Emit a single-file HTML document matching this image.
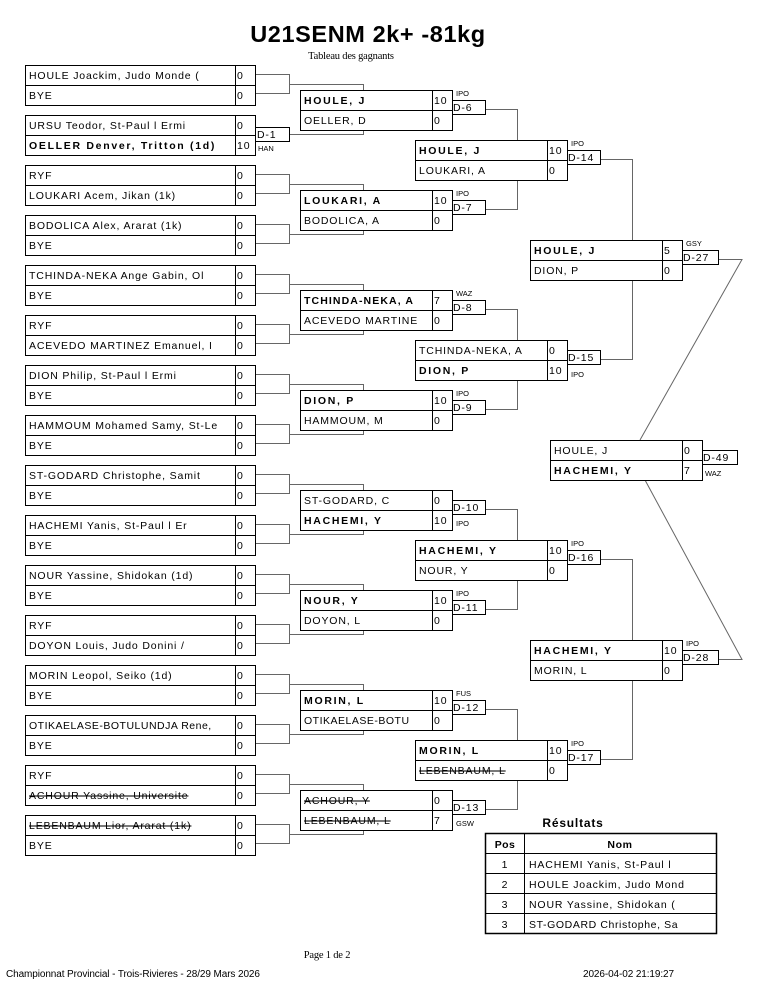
<!DOCTYPE html>
<html><head><meta charset="utf-8"><style>
html,body{margin:0;padding:0;background:#fff;}
svg{display:block;}
text{font-family:"Liberation Sans",sans-serif;font-size:10.5px;letter-spacing:0.85px;fill:#000;}
.b{font-weight:bold;letter-spacing:1.7px;}
.t{font-size:7.5px;letter-spacing:0;}
.s{text-decoration:line-through;}
rect{fill:#fff;stroke:#000;stroke-width:1;}
.l{stroke:#000;stroke-width:1;fill:none;}
.c{stroke:#666;stroke-width:1;fill:none;}
</style></head><body>
<svg width="765" height="990" viewBox="0 0 765 990" xmlns="http://www.w3.org/2000/svg">
<text x="368" y="42" text-anchor="middle" style="font-size:23.5px;font-weight:bold;letter-spacing:0.6px">U21SENM 2k+ -81kg</text>
<text x="351" y="59" text-anchor="middle" style="font-family:'Liberation Serif',serif;font-size:10.5px;letter-spacing:-0.2px">Tableau des gagnants</text>

<!-- ROUND 1 -->
<g transform="translate(0,65)"><path class="c" d="M255 9.5H289.5V28.5H255M289 19.5H363.5V25"/><rect x="25.5" y="0.5" width="230" height="40"/><path class="l" d="M25 20.5H255M235.5 0V40"/><text x="29" y="14">HOULE Joackim, Judo Monde (</text><text x="29" y="34">BYE</text><text x="237" y="14">0</text><text x="237" y="34">0</text></g>
<g transform="translate(0,115)"><path class="c" d="M290 19.5H363.5V15"/><rect x="25.5" y="0.5" width="230" height="40"/><path class="l" d="M25 20.5H255M235.5 0V40"/><text x="29" y="14">URSU Teodor, St-Paul l Ermi</text><text x="29" y="34" class="b">OELLER Denver, Tritton (1d)</text><text x="237" y="14">0</text><text x="237" y="34">10</text><rect x="255.5" y="12.5" width="34" height="14"/><text x="257" y="23">D-1</text><text x="258" y="36" class="t">HAN</text></g>
<g transform="translate(0,165)"><path class="c" d="M255 9.5H289.5V28.5H255M289 19.5H363.5V25"/><rect x="25.5" y="0.5" width="230" height="40"/><path class="l" d="M25 20.5H255M235.5 0V40"/><text x="29" y="14">RYF</text><text x="29" y="34">LOUKARI Acem, Jikan (1k)</text><text x="237" y="14">0</text><text x="237" y="34">0</text></g>
<g transform="translate(0,215)"><path class="c" d="M255 9.5H289.5V28.5H255M289 19.5H363.5V15"/><rect x="25.5" y="0.5" width="230" height="40"/><path class="l" d="M25 20.5H255M235.5 0V40"/><text x="29" y="14">BODOLICA Alex, Ararat (1k)</text><text x="29" y="34">BYE</text><text x="237" y="14">0</text><text x="237" y="34">0</text></g>
<g transform="translate(0,265)"><path class="c" d="M255 9.5H289.5V28.5H255M289 19.5H363.5V25"/><rect x="25.5" y="0.5" width="230" height="40"/><path class="l" d="M25 20.5H255M235.5 0V40"/><text x="29" y="14">TCHINDA-NEKA Ange Gabin, Ol</text><text x="29" y="34">BYE</text><text x="237" y="14">0</text><text x="237" y="34">0</text></g>
<g transform="translate(0,315)"><path class="c" d="M255 9.5H289.5V28.5H255M289 19.5H363.5V15"/><rect x="25.5" y="0.5" width="230" height="40"/><path class="l" d="M25 20.5H255M235.5 0V40"/><text x="29" y="14">RYF</text><text x="29" y="34">ACEVEDO MARTINEZ Emanuel, I</text><text x="237" y="14">0</text><text x="237" y="34">0</text></g>
<g transform="translate(0,365)"><path class="c" d="M255 9.5H289.5V28.5H255M289 19.5H363.5V25"/><rect x="25.5" y="0.5" width="230" height="40"/><path class="l" d="M25 20.5H255M235.5 0V40"/><text x="29" y="14">DION Philip, St-Paul l Ermi</text><text x="29" y="34">BYE</text><text x="237" y="14">0</text><text x="237" y="34">0</text></g>
<g transform="translate(0,415)"><path class="c" d="M255 9.5H289.5V28.5H255M289 19.5H363.5V15"/><rect x="25.5" y="0.5" width="230" height="40"/><path class="l" d="M25 20.5H255M235.5 0V40"/><text x="29" y="14">HAMMOUM Mohamed Samy, St-Le</text><text x="29" y="34">BYE</text><text x="237" y="14">0</text><text x="237" y="34">0</text></g>
<g transform="translate(0,465)"><path class="c" d="M255 9.5H289.5V28.5H255M289 19.5H363.5V25"/><rect x="25.5" y="0.5" width="230" height="40"/><path class="l" d="M25 20.5H255M235.5 0V40"/><text x="29" y="14">ST-GODARD Christophe, Samit</text><text x="29" y="34">BYE</text><text x="237" y="14">0</text><text x="237" y="34">0</text></g>
<g transform="translate(0,515)"><path class="c" d="M255 9.5H289.5V28.5H255M289 19.5H363.5V15"/><rect x="25.5" y="0.5" width="230" height="40"/><path class="l" d="M25 20.5H255M235.5 0V40"/><text x="29" y="14">HACHEMI Yanis, St-Paul l Er</text><text x="29" y="34">BYE</text><text x="237" y="14">0</text><text x="237" y="34">0</text></g>
<g transform="translate(0,565)"><path class="c" d="M255 9.5H289.5V28.5H255M289 19.5H363.5V25"/><rect x="25.5" y="0.5" width="230" height="40"/><path class="l" d="M25 20.5H255M235.5 0V40"/><text x="29" y="14">NOUR Yassine, Shidokan (1d)</text><text x="29" y="34">BYE</text><text x="237" y="14">0</text><text x="237" y="34">0</text></g>
<g transform="translate(0,615)"><path class="c" d="M255 9.5H289.5V28.5H255M289 19.5H363.5V15"/><rect x="25.5" y="0.5" width="230" height="40"/><path class="l" d="M25 20.5H255M235.5 0V40"/><text x="29" y="14">RYF</text><text x="29" y="34">DOYON Louis, Judo Donini /</text><text x="237" y="14">0</text><text x="237" y="34">0</text></g>
<g transform="translate(0,665)"><path class="c" d="M255 9.5H289.5V28.5H255M289 19.5H363.5V25"/><rect x="25.5" y="0.5" width="230" height="40"/><path class="l" d="M25 20.5H255M235.5 0V40"/><text x="29" y="14">MORIN Leopol, Seiko (1d)</text><text x="29" y="34">BYE</text><text x="237" y="14">0</text><text x="237" y="34">0</text></g>
<g transform="translate(0,715)"><path class="c" d="M255 9.5H289.5V28.5H255M289 19.5H363.5V15"/><rect x="25.5" y="0.5" width="230" height="40"/><path class="l" d="M25 20.5H255M235.5 0V40"/><text x="29" y="14" style="letter-spacing:0.5px">OTIKAELASE-BOTULUNDJA Rene,</text><text x="29" y="34">BYE</text><text x="237" y="14">0</text><text x="237" y="34">0</text></g>
<g transform="translate(0,765)"><path class="c" d="M255 9.5H289.5V28.5H255M289 19.5H363.5V25"/><rect x="25.5" y="0.5" width="230" height="40"/><path class="l" d="M25 20.5H255M235.5 0V40"/><text x="29" y="14">RYF</text><text x="29" y="34" class="s">ACHOUR Yassine, Universite</text><text x="237" y="14">0</text><text x="237" y="34">0</text></g>
<g transform="translate(0,815)"><path class="c" d="M255 9.5H289.5V28.5H255M289 19.5H363.5V15"/><rect x="25.5" y="0.5" width="230" height="40"/><path class="l" d="M25 20.5H255M235.5 0V40"/><text x="29" y="14" class="s">LEBENBAUM Lior, Ararat (1k)</text><text x="29" y="34">BYE</text><text x="237" y="14">0</text><text x="237" y="34">0</text></g>

<!-- ROUND 2 -->
<g transform="translate(0,90)"><path class="c" d="M485 19.5H517.5V50"/><rect x="300.5" y="0.5" width="152" height="40"/><path class="l" d="M300 20.5H452M432.5 0V40"/><text x="304" y="14" class="b">HOULE, J</text><text x="304" y="34">OELLER, D</text><text x="434" y="14">10</text><text x="434" y="34">0</text><rect x="452.5" y="10.5" width="33" height="14"/><text x="453" y="21">D-6</text><text x="456" y="6" class="t">IPO</text></g>
<g transform="translate(0,190)"><path class="c" d="M485 19.5H517.5V-10"/><rect x="300.5" y="0.5" width="152" height="40"/><path class="l" d="M300 20.5H452M432.5 0V40"/><text x="304" y="14" class="b">LOUKARI, A</text><text x="304" y="34">BODOLICA, A</text><text x="434" y="14">10</text><text x="434" y="34">0</text><rect x="452.5" y="10.5" width="33" height="14"/><text x="453" y="21">D-7</text><text x="456" y="6" class="t">IPO</text></g>
<g transform="translate(0,290)"><path class="c" d="M485 19.5H517.5V50"/><rect x="300.5" y="0.5" width="152" height="40"/><path class="l" d="M300 20.5H452M432.5 0V40"/><text x="304" y="14" class="b" style="letter-spacing:1.1px">TCHINDA-NEKA, A</text><text x="304" y="34">ACEVEDO MARTINE</text><text x="434" y="14">7</text><text x="434" y="34">0</text><rect x="452.5" y="10.5" width="33" height="14"/><text x="453" y="21">D-8</text><text x="456" y="6" class="t">WAZ</text></g>
<g transform="translate(0,390)"><path class="c" d="M485 19.5H517.5V-10"/><rect x="300.5" y="0.5" width="152" height="40"/><path class="l" d="M300 20.5H452M432.5 0V40"/><text x="304" y="14" class="b">DION, P</text><text x="304" y="34">HAMMOUM, M</text><text x="434" y="14">10</text><text x="434" y="34">0</text><rect x="452.5" y="10.5" width="33" height="14"/><text x="453" y="21">D-9</text><text x="456" y="6" class="t">IPO</text></g>
<g transform="translate(0,490)"><path class="c" d="M485 19.5H517.5V50"/><rect x="300.5" y="0.5" width="152" height="40"/><path class="l" d="M300 20.5H452M432.5 0V40"/><text x="304" y="14">ST-GODARD, C</text><text x="304" y="34" class="b">HACHEMI, Y</text><text x="434" y="14">0</text><text x="434" y="34">10</text><rect x="452.5" y="10.5" width="33" height="14"/><text x="453" y="21">D-10</text><text x="456" y="36" class="t">IPO</text></g>
<g transform="translate(0,590)"><path class="c" d="M485 19.5H517.5V-10"/><rect x="300.5" y="0.5" width="152" height="40"/><path class="l" d="M300 20.5H452M432.5 0V40"/><text x="304" y="14" class="b">NOUR, Y</text><text x="304" y="34">DOYON, L</text><text x="434" y="14">10</text><text x="434" y="34">0</text><rect x="452.5" y="10.5" width="33" height="14"/><text x="453" y="21">D-11</text><text x="456" y="6" class="t">IPO</text></g>
<g transform="translate(0,690)"><path class="c" d="M485 19.5H517.5V50"/><rect x="300.5" y="0.5" width="152" height="40"/><path class="l" d="M300 20.5H452M432.5 0V40"/><text x="304" y="14" class="b">MORIN, L</text><text x="304" y="34" style="letter-spacing:0.5px">OTIKAELASE-BOTU</text><text x="434" y="14">10</text><text x="434" y="34">0</text><rect x="452.5" y="10.5" width="33" height="14"/><text x="453" y="21">D-12</text><text x="456" y="6" class="t">FUS</text></g>
<g transform="translate(0,790)"><path class="c" d="M485 19.5H517.5V-10"/><rect x="300.5" y="0.5" width="152" height="40"/><path class="l" d="M300 20.5H452M432.5 0V40"/><text x="304" y="14" class="s">ACHOUR, Y</text><text x="304" y="34" class="s">LEBENBAUM, L</text><text x="434" y="14">0</text><text x="434" y="34">7</text><rect x="452.5" y="10.5" width="33" height="14"/><text x="453" y="21">D-13</text><text x="456" y="36" class="t">GSW</text></g>

<!-- ROUND 3 -->
<g transform="translate(0,140)"><path class="c" d="M600 19.5H632.5V100"/><rect x="415.5" y="0.5" width="152" height="40"/><path class="l" d="M415 20.5H567M547.5 0V40"/><text x="419" y="14" class="b">HOULE, J</text><text x="419" y="34">LOUKARI, A</text><text x="549" y="14">10</text><text x="549" y="34">0</text><rect x="567.5" y="10.5" width="33" height="14"/><text x="568" y="21">D-14</text><text x="571" y="6" class="t">IPO</text></g>
<g transform="translate(0,340)"><path class="c" d="M600 19.5H632.5V-60"/><rect x="415.5" y="0.5" width="152" height="40"/><path class="l" d="M415 20.5H567M547.5 0V40"/><text x="419" y="14">TCHINDA-NEKA, A</text><text x="419" y="34" class="b">DION, P</text><text x="549" y="14">0</text><text x="549" y="34">10</text><rect x="567.5" y="10.5" width="33" height="14"/><text x="568" y="21">D-15</text><text x="571" y="37" class="t">IPO</text></g>
<g transform="translate(0,540)"><path class="c" d="M600 19.5H632.5V100"/><rect x="415.5" y="0.5" width="152" height="40"/><path class="l" d="M415 20.5H567M547.5 0V40"/><text x="419" y="14" class="b">HACHEMI, Y</text><text x="419" y="34">NOUR, Y</text><text x="549" y="14">10</text><text x="549" y="34">0</text><rect x="567.5" y="10.5" width="33" height="14"/><text x="568" y="21">D-16</text><text x="571" y="6" class="t">IPO</text></g>
<g transform="translate(0,740)"><path class="c" d="M600 19.5H632.5V-60"/><rect x="415.5" y="0.5" width="152" height="40"/><path class="l" d="M415 20.5H567M547.5 0V40"/><text x="419" y="14" class="b">MORIN, L</text><text x="419" y="34" class="s">LEBENBAUM, L</text><text x="549" y="14">10</text><text x="549" y="34">0</text><rect x="567.5" y="10.5" width="33" height="14"/><text x="568" y="21">D-17</text><text x="571" y="6" class="t">IPO</text></g>

<!-- ROUND 4 -->
<g transform="translate(0,240)"><path class="c" d="M718 19.5H742L640 200"/><rect x="530.5" y="0.5" width="152" height="40"/><path class="l" d="M530 20.5H682M662.5 0V40"/><text x="534" y="14" class="b">HOULE, J</text><text x="534" y="34">DION, P</text><text x="664" y="14">5</text><text x="664" y="34">0</text><rect x="682.5" y="10.5" width="36" height="14"/><text x="683" y="21">D-27</text><text x="686" y="6" class="t">GSY</text></g>
<g transform="translate(0,640)"><path class="c" d="M718 19.5H742L645 -160"/><rect x="530.5" y="0.5" width="152" height="40"/><path class="l" d="M530 20.5H682M662.5 0V40"/><text x="534" y="14" class="b">HACHEMI, Y</text><text x="534" y="34">MORIN, L</text><text x="664" y="14">10</text><text x="664" y="34">0</text><rect x="682.5" y="10.5" width="36" height="14"/><text x="683" y="21">D-28</text><text x="686" y="6" class="t">IPO</text></g>

<!-- FINAL -->
<g transform="translate(0,440)"><rect x="550.5" y="0.5" width="152" height="40"/><path class="l" d="M550 20.5H702M682.5 0V40"/><text x="554" y="14">HOULE, J</text><text x="554" y="34" class="b">HACHEMI, Y</text><text x="684" y="14">0</text><text x="684" y="34">7</text><rect x="702.5" y="10.5" width="35" height="14"/><text x="703" y="21">D-49</text><text x="705" y="36" class="t">WAZ</text></g>

<!-- RESULTS -->
<text x="573" y="827" text-anchor="middle" class="b" style="font-size:12px;letter-spacing:0.8px">Résultats</text>
<rect x="485.5" y="833.5" width="231" height="100" style="stroke-width:1.5"/>
<path class="l" d="M485 853.5H717M485 873.5H717M485 893.5H717M485 913.5H717M524.5 833V933"/>
<text x="505" y="848" text-anchor="middle" class="b" style="letter-spacing:0.4px">Pos</text>
<text x="620" y="848" text-anchor="middle" class="b" style="letter-spacing:0.6px">Nom</text>
<text x="505" y="868" text-anchor="middle">1</text><text x="529" y="868">HACHEMI Yanis, St-Paul l</text>
<text x="505" y="888" text-anchor="middle">2</text><text x="529" y="888">HOULE Joackim, Judo Mond</text>
<text x="505" y="908" text-anchor="middle">3</text><text x="529" y="908">NOUR Yassine, Shidokan (</text>
<text x="505" y="928" text-anchor="middle">3</text><text x="529" y="928" style="letter-spacing:0.6px">ST-GODARD Christophe, Sa</text>

<!-- FOOTER -->
<text x="327" y="958" text-anchor="middle" style="font-family:'Liberation Serif',serif;font-size:10.5px;letter-spacing:-0.2px">Page 1 de 2</text>
<text x="6" y="977" style="font-size:10px;letter-spacing:-0.1px">Championnat Provincial - Trois-Rivieres - 28/29 Mars 2026</text>
<text x="583" y="977" style="font-size:10px;letter-spacing:-0.1px">2026-04-02 21:19:27</text>
</svg>
</body></html>
